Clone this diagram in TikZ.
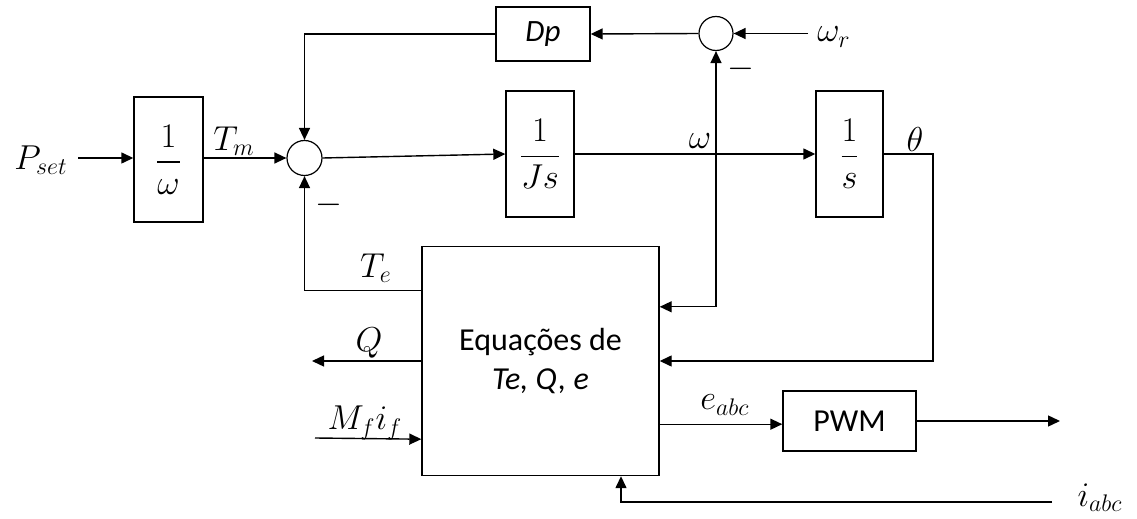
\documentclass[tikz,border=0pt]{standalone}
\usepackage[no-math]{fontspec}
\setmainfont{Carlito}
\usepackage{amsmath}
\usetikzlibrary{arrows.meta}
\newcommand{\blockfrac}[2]{{\nulldelimiterspace=0pt\dfrac{#1\rule[-3.5pt]{0pt}{3.5pt}}{\rule{0pt}{12.5pt}#2}}}
\tikzset{
  >={Triangle[length=6pt,width=5.5pt]},
  wire/.style={line width=0.7pt},
  sig/.style={wire, ->},
  dsig/.style={wire, <->},
  box/.style={draw, line width=0.7pt, fill=white, inner sep=0pt, font=\fontsize{16}{20}\selectfont},
  sumdot/.style={circle, draw, line width=0.6pt, fill=white, inner sep=0pt, minimum size=17.5pt},
  lbl/.style={inner sep=0pt, font=\fontsize{17}{20}\selectfont},
  txt/.style={font=\fontsize{16}{19.5}\selectfont, align=center}
}
\begin{document}
\begin{tikzpicture}[x=0.5pt,y=-0.5pt]
  \useasboundingbox (0,0) rectangle (1137,519);
  % forward path
  \node[lbl, font=\fontsize{18}{20}\selectfont] (pset) at (41,160) {$P_{set}$};
  \coordinate (psetend) at (78,158);
  \node[box, minimum width=34.5pt, minimum height=62.5pt] (gain) at (168.5,159.5) {$\blockfrac{1}{\omega}$};
  \node[sumdot] (sum1) at (304.5,158) {};
  \node[box, minimum width=34pt, minimum height=63pt] (js) at (540,154) {$\blockfrac{1}{Js}$};
  \node[box, minimum width=33.5pt, minimum height=63pt] (integ) at (849.5,154) {$\blockfrac{1}{s}$};
  \draw[sig] (psetend) -- (psetend -| gain.west);
  \draw[sig] (gain.east |- sum1) -- (sum1.west);
  \draw[sig] (sum1.east) -- (js.west);
  \draw[sig] (js.east) -- (integ.west);
  \node[lbl] (tm) at (234,141) {$T_m$};
  \node[lbl] (wlbl) at (700,141) {$\omega$};
  \node[lbl] (thlbl) at (915,140) {$\theta$};
  \node[lbl] (minus1) at (329,205) {$-$};
  % damping loop
  \node[box, minimum width=47pt, minimum height=27pt, font=\fontsize{15.5}{19}\selectfont\itshape] (dp) at (543,34) {Dp};
  \node[sumdot, minimum size=17pt] (sum2) at (716,33.5) {};
  \node[lbl] (wr) at (834,37) {$\omega_r$};
  \coordinate (wrend) at (808,33.5);
  \node[lbl] (minus2) at (741,69) {$-$};
  \draw[sig] (wrend) -- (sum2.east);
  \draw[sig] (sum2.west) -- (dp.east);
  \draw[sig] (dp.west) -| (sum1.north);
  % machine equations
  \node[box, minimum width=118.5pt, minimum height=114.5pt, txt] (eq) at (540.5,361)
    {Equações de\\\textit{Te, Q, e}};
  \path (eq.north west) ++(0,45) coordinate (teout);
  \path (eq.north east) ++(0,61) coordinate (win);
  \path (eq.south west) ++(0,-37) coordinate (mfin);
  \path (eq.south east) ++(0,-52) coordinate (eout);
  \path (eq.south) ++(80.5,0) coordinate (ieq);
  \coordinate (thturn) at (933,361);
  \coordinate (qend) at (312,361);
  \coordinate (mfstart) at (315,438);
  \coordinate (iin) at (1052,502);
  \draw[sig] (teout) -| (sum1.south);
  \draw[dsig] (sum2.south) |- (win);
  \draw[sig] (integ.east) -| (thturn) -- (thturn -| eq.east);
  \draw[sig] (eq.west) -- (qend);
  \draw[sig] (mfstart) -- (mfin);
  \draw[sig] (iin) -| (ieq);
  \node[lbl] (te) at (376,268) {$T_e$};
  \node[lbl] (q) at (369,343) {$Q$};
  \node[lbl] (mf) at (365,423) {$M_f i_f$};
  % modulator
  \node[box, minimum width=66.5pt, minimum height=30pt, txt] (pwm) at (849.5,421) {PWM};
  \coordinate (pwmout) at (1060,421);
  \draw[sig] (eout) -- (eout -| pwm.west);
  \draw[sig] (pwm.east) -- (pwmout);
  \node[lbl] (eabc) at (725,405) {$e_{abc}$};
  \node[lbl] (iabc) at (1100,498) {$i_{abc}$};
\end{tikzpicture}
\end{document}
